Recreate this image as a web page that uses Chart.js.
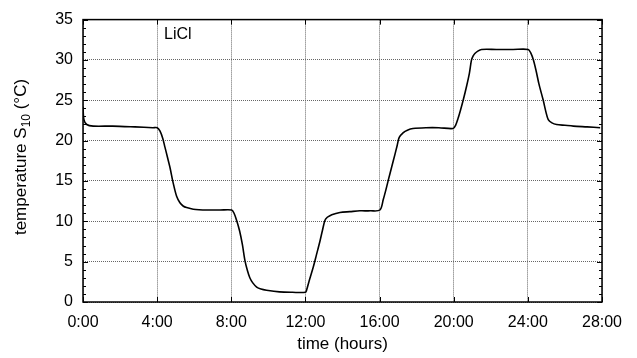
<!DOCTYPE html>
<html>
<head>
<meta charset="utf-8">
<script src="https://cdn.jsdelivr.net/npm/chart.js@4"></script>
<style>
  html, body { margin: 0; padding: 0; background: #fff; }
  #wrap { width: 637px; height: 358px; }
</style>
</head>
<body>
<div id="wrap"><canvas id="chart" width="637" height="358"></canvas></div>
<script>
// time in hours, temperature in degrees C
const hours = [0, 0.05, 0.2, 0.55, 1.6, 2.8, 3.77, 4.0, 4.15, 4.3, 4.42, 4.55, 4.69, 4.87, 5.05, 5.23, 5.4, 5.59, 5.95, 6.7, 7.4, 8.02,
  8.15, 8.29, 8.45, 8.6, 8.74, 8.87, 9.0, 9.15, 9.37, 9.6, 9.9, 10.6, 11.3, 12.0,
  12.06, 12.2, 12.42, 12.6, 12.78, 12.92, 13.05, 13.18, 13.32, 13.55, 13.86, 14.4, 14.94, 15.5, 16.02,
  16.2, 16.33, 16.47, 16.65, 16.83, 16.95, 17.06, 17.28, 17.5, 17.8, 18.5, 19.2, 19.97,
  20.1, 20.24, 20.38, 20.51, 20.7, 20.85, 20.96, 21.05, 21.14, 21.3, 21.5, 22.3, 23.2, 24.02,
  24.15, 24.3, 24.45, 24.6, 24.83, 24.97, 25.1, 25.3, 25.55, 26.0, 26.45, 27.2, 27.9];
const temps = [24.2, 22.6, 22.0, 21.8, 21.8, 21.7, 21.6, 21.6, 21.2, 20.3, 19.2, 18.0, 16.7, 14.7, 13.1, 12.3, 11.9, 11.7, 11.5, 11.4, 11.4, 11.4,
  11.0, 10.1, 8.8, 7.1, 5.1, 3.9, 3.0, 2.4, 1.85, 1.6, 1.45, 1.25, 1.2, 1.2,
  1.45, 2.6, 4.3, 5.9, 7.5, 8.9, 10.1, 10.5, 10.7, 10.9, 11.1, 11.2, 11.3, 11.3, 11.4,
  12.7, 13.8, 15.1, 16.7, 18.3, 19.4, 20.4, 21.0, 21.3, 21.5, 21.6, 21.6, 21.5,
  21.9, 22.8, 23.9, 25.0, 26.8, 28.4, 30.0, 30.5, 30.8, 31.1, 31.3, 31.3, 31.3, 31.3,
  30.9, 30.0, 28.6, 27.0, 25.0, 23.6, 22.6, 22.2, 22.0, 21.9, 21.8, 21.7, 21.6];
const xTicks = [0, 4, 8, 12, 16, 20, 24, 28];
const yTicks = [0, 5, 10, 15, 20, 25, 30, 35];
const label = 'LiCl';
const yTitle = ['temperature S', '10', ' (\u00B0C)'];

const fontFamily = '"Liberation Sans", Arial, sans-serif';

// box frame, inner tick marks, the LiCl note and the y title with a real subscript
const framePlugin = {
  id: 'frame',
  afterDraw(chart) {
    const ctx = chart.ctx;
    const a = chart.chartArea;
    const xs = chart.scales.x, ys = chart.scales.y;
    ctx.save();
    ctx.strokeStyle = '#000';
    ctx.lineWidth = 1.5;
    ctx.strokeRect(a.left, a.top, a.right - a.left, a.bottom - a.top);
    ctx.lineWidth = 1;
    ctx.beginPath();
    for (let v = 0; v <= 35; v++) {
      const y = Math.round(ys.getPixelForValue(v)) + 0.5;
      const len = v % 5 === 0 ? 5 : 3;
      ctx.moveTo(a.left, y); ctx.lineTo(a.left + len, y);
      ctx.moveTo(a.right, y); ctx.lineTo(a.right - len, y);
    }
    xTicks.forEach(h => {
      const x = Math.round(xs.getPixelForValue(h)) + 0.5;
      ctx.moveTo(x, a.bottom); ctx.lineTo(x, a.bottom - 5);
      ctx.moveTo(x, a.top); ctx.lineTo(x, a.top + 5);
    });
    ctx.stroke();
    ctx.fillStyle = '#000';
    ctx.font = '16px ' + fontFamily;
    ctx.textBaseline = 'middle';
    ctx.fillText(label, xs.getPixelForValue(4.37), ys.getPixelForValue(33.2));

    // rotated y title
    const big = '17px ' + fontFamily, small = '12px ' + fontFamily;
    ctx.font = big;
    const w0 = ctx.measureText(yTitle[0]).width;
    const w2 = ctx.measureText(yTitle[2]).width;
    ctx.font = small;
    const w1 = ctx.measureText(yTitle[1]).width;
    const total = w0 + w1 + w2;
    const cy = 157;
    ctx.translate(26, cy);
    ctx.rotate(-Math.PI / 2);
    ctx.textBaseline = 'alphabetic';
    ctx.textAlign = 'left';
    let x = -total / 2;
    ctx.font = big; ctx.fillText(yTitle[0], x, 0); x += w0;
    ctx.font = small; ctx.fillText(yTitle[1], x, 4); x += w1;
    ctx.font = big; ctx.fillText(yTitle[2], x, 0);
    ctx.restore();
  }
};

new Chart(document.getElementById('chart'), {
  type: 'line',
  data: {
    datasets: [{
      data: hours.map((h, i) => ({ x: h, y: temps[i] })),
      borderColor: '#000',
      borderWidth: 1.6,
      pointRadius: 0,
      tension: 0.3,
      fill: false
    }]
  },
  options: {
    responsive: false,
    animation: false,
    layout: { padding: { top: 12, right: 35, left: 0, bottom: 0 } },
    plugins: { legend: { display: false }, tooltip: { enabled: false } },
    scales: {
      x: {
        type: 'linear',
        min: 0, max: 28,
        afterBuildTicks: s => { s.ticks = xTicks.map(v => ({ value: v })); },
        afterFit: s => { s.height = 56; },
        ticks: {
          color: '#000',
          font: { family: fontFamily, size: 16 },
          padding: 11,
          maxRotation: 0,
          callback: v => v + ':00'
        },
        grid: { color: '#666', lineWidth: 1, drawTicks: false },
        border: { display: false, dash: [1, 1] },
        title: {
          display: true,
          text: 'time (hours)',
          color: '#000',
          font: { family: fontFamily, size: 17 },
          padding: { top: 0, bottom: 3 }
        }
      },
      y: {
        min: 0, max: 35,
        afterBuildTicks: s => { s.ticks = yTicks.map(v => ({ value: v })); },
        afterFit: s => { s.width = 83; },
        ticks: {
          color: '#000',
          font: { family: fontFamily, size: 16 },
          padding: 10
        },
        grid: { color: '#666', lineWidth: 1, drawTicks: false },
        border: { display: false, dash: [1, 1] },
        title: { display: false }
      }
    }
  },
  plugins: [framePlugin]
});
</script>
</body>
</html>
